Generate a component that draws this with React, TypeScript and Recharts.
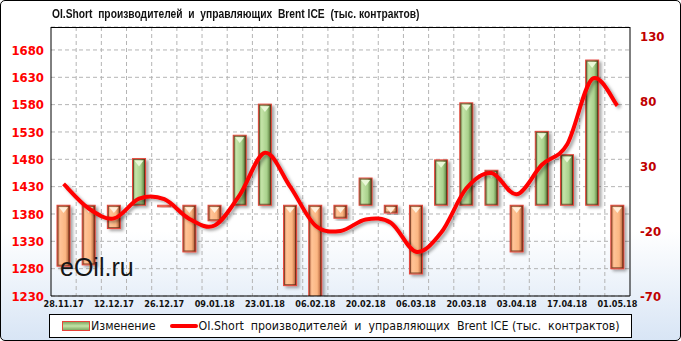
import React from 'react'
import { ComposedChart, Bar, Line, XAxis, YAxis, CartesianGrid } from 'recharts'

const dates = [
  '28.11.17', '05.12.17', '12.12.17', '19.12.17', '26.12.17', '02.01.18', '09.01.18', '16.01.18',
  '23.01.18', '30.01.18', '06.02.18', '13.02.18', '20.02.18', '27.02.18', '06.03.18', '13.03.18',
  '20.03.18', '27.03.18', '03.04.18', '10.04.18', '17.04.18', '24.04.18', '01.05.18',
]
const changes = [-47, -46, -18, 36, -1, -36, -12, 54, 78, -62, -71, -10, 21, -6, -53, 35, 79, 27, -36, 57, 39, 112, -49]
const oiShort = [1435, 1390, 1372, 1408, 1407, 1371, 1359, 1415, 1492, 1430, 1359, 1349, 1370, 1364, 1311, 1346, 1427, 1455, 1416, 1470, 1507, 1627, 1578]
const leftTicks = [1230, 1280, 1330, 1380, 1430, 1480, 1530, 1580, 1630, 1680]
const rightTicks = [-70, -20, 30, 80, 130]

const TITLE = 'OI.Short  производителей  и  управляющих  Brent ICE  (тыс. контрактов)'
const LEGEND_LINE = 'OI.Short  производителей  и  управляющих  Brent ICE (тыс.  контрактов)'

const data = dates.map((d, i) => ({ date: d, change: changes[i], oi: oiShort[i] }))

const FONT = "Tahoma, 'DejaVu Sans Condensed', 'Liberation Sans Narrow', 'DejaVu Sans', sans-serif"

// Excel-style smoothing (Catmull-Rom through every point)
const excelCurve = (context: any) => {
  let pts: number[][] = []
  return {
    areaStart() {},
    areaEnd() {},
    lineStart() { pts = [] },
    point(x: number, y: number) { pts.push([+x, +y]) },
    lineEnd() {
      if (!pts.length) return
      context.moveTo(pts[0][0], pts[0][1])
      for (let i = 0; i < pts.length - 1; i++) {
        const p0 = pts[i - 1] || pts[i]
        const p1 = pts[i]
        const p2 = pts[i + 1]
        const p3 = pts[i + 2] || p2
        context.bezierCurveTo(
          p1[0] + (p2[0] - p0[0]) / 6, p1[1] + (p2[1] - p0[1]) / 6,
          p2[0] - (p3[0] - p1[0]) / 6, p2[1] - (p3[1] - p1[1]) / 6,
          p2[0], p2[1],
        )
      }
    },
  }
}

// 3d-looking bar like the Excel original
const BevelBar = (props: any) => {
  const { x, y, width, height, payload } = props
  if (x == null || y == null || !width) return null
  const top = height < 0 ? y + height : y
  const h = Math.max(Math.abs(height), 1.5)
  const pos = payload.change >= 0
  const tri = Math.min(width * 0.45, h - 2)
  return (
    <g>
      <rect x={x} y={top} width={width} height={h} fill={`url(#${pos ? 'gGreen' : 'gOrange'})`}
        stroke="#e8443a" strokeWidth={1} filter="url(#shadow)" />
      {h > 4 && (
        <>
          <rect x={x + 1} y={top + 1} width={width - 2} height={h - 2} fill="none" stroke="#5a2410" strokeOpacity={0.7} strokeWidth={1} />
          <polygon
            points={`${x + 2},${top + 2} ${x + width - 2},${top + 2} ${x + width / 2},${top + 2 + tri}`}
            fill={pos ? '#eaf8d8' : '#fff0dc'}
          />
        </>
      )}
    </g>
  )
}

export default function App() {
  return (
    <div style={{
      position: 'absolute', left: 0, top: 0, width: 679, height: 339,
      border: '1px solid #000', borderRadius: 5,
      background: 'linear-gradient(to bottom, #ffffff 0%, #ffffff 68%, #d8e5f5 100%)',
      fontFamily: FONT, overflow: 'hidden',
    }}>
      <div style={{
        position: 'absolute', left: 51, top: 5, fontSize: 13.5, fontWeight: 'bold', color: '#111',
        whiteSpace: 'pre', lineHeight: '16px', fontFamily: "'Liberation Sans', Arial, sans-serif",
        transform: 'scaleX(0.76)', transformOrigin: 'left center',
      }}>{TITLE}</div>

      <div style={{ position: 'absolute', left: -1, top: -1 }}>
        <ComposedChart width={681} height={341} data={data}
          margin={{ top: 27, right: 0, left: 0, bottom: 27 }} barSize={13}>
          <defs>
            <linearGradient id="gOrange" x1="0" y1="0" x2="1" y2="0">
              <stop offset="0%" stopColor="#d8855a" />
              <stop offset="25%" stopColor="#ffc396" />
              <stop offset="65%" stopColor="#fbb682" />
              <stop offset="85%" stopColor="#c9794e" />
              <stop offset="100%" stopColor="#6e2a12" />
            </linearGradient>
            <linearGradient id="gGreen" x1="0" y1="0" x2="1" y2="0">
              <stop offset="0%" stopColor="#7fa862" />
              <stop offset="25%" stopColor="#c4e4a8" />
              <stop offset="65%" stopColor="#a9d18c" />
              <stop offset="85%" stopColor="#6f9552" />
              <stop offset="100%" stopColor="#34501e" />
            </linearGradient>
            <filter id="shadow" x="-50%" y="-20%" width="200%" height="140%">
              <feDropShadow dx="2.5" dy="2" stdDeviation="1.5" floodColor="#000" floodOpacity="0.35" />
            </filter>
          </defs>
          <CartesianGrid yAxisId="left" stroke="#b4b4b4" strokeDasharray="4 3"
            verticalCoordinatesGenerator={({ offset }: any) =>
              dates.slice(1).map((_, i) => offset.left + ((i + 1) * offset.width) / dates.length)} />
          <XAxis dataKey="date" interval={1} height={18} tickSize={0} tickMargin={5}
            axisLine={{ stroke: '#000' }}
            tick={{ fontSize: 9, fontWeight: 'bold', fill: '#111', fontFamily: FONT }} />
          <YAxis yAxisId="left" width={51} domain={[1230, 1722]} ticks={leftTicks} allowDataOverflow
            tickSize={0} tickMargin={7} axisLine={{ stroke: '#000' }}
            tick={{ fontSize: 13, fontWeight: 'bold', fill: '#ff0000', fontFamily: FONT }} />
          <YAxis yAxisId="right" orientation="right" width={51} domain={[-70, 137.5]} ticks={rightTicks} allowDataOverflow
            tickSize={0} tickMargin={10} axisLine={{ stroke: '#000' }}
            tick={{ fontSize: 13, fontWeight: 'bold', fill: '#c00000', fontFamily: FONT, textAnchor: 'start' }} />
          <Bar yAxisId="right" dataKey="change" shape={<BevelBar />} isAnimationActive={false} />
          <Line yAxisId="left" dataKey="oi" type={excelCurve as any} stroke="#ff0000" strokeWidth={4}
            dot={false} activeDot={false} filter="url(#shadow)" isAnimationActive={false} />
        </ComposedChart>
      </div>

      {/* plot frame top edge */}
      <div style={{ position: 'absolute', left: 50, top: 26, width: 579, height: 0, borderTop: '1px solid #000' }} />

      <div style={{
        position: 'absolute', left: 59, top: 252, fontSize: 25, color: '#151515',
        fontFamily: "Arial, 'Liberation Sans', sans-serif",
      }}>eOil.ru</div>

      <div style={{
        position: 'absolute', left: 48, top: 313, width: 581, height: 22,
        border: '1px solid #000', background: '#fff', display: 'flex', alignItems: 'center',
        fontSize: 12.3, color: '#111', whiteSpace: 'pre',
      }}>
        <span style={{
          display: 'inline-block', marginLeft: 12, width: 26, height: 8,
          background: 'linear-gradient(to bottom, #7fa862, #c4e4a8, #7fa862)', border: '1px solid #e8443a',
        }} />
        <span style={{ marginLeft: 1 }}>Изменение</span>
        <span style={{ display: 'inline-block', marginLeft: 14, width: 28, height: 4, background: '#ff0000', borderRadius: 2 }} />
        <span style={{ marginLeft: 1 }}>{LEGEND_LINE}</span>
      </div>
    </div>
  )
}
